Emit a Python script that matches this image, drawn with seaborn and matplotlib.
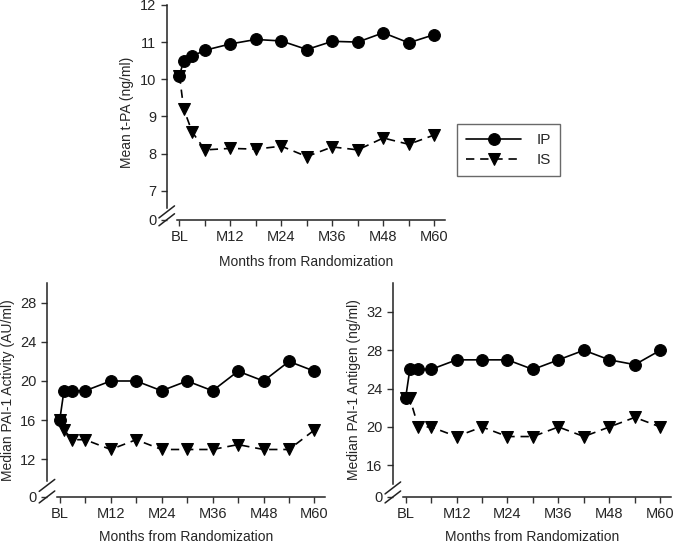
import pandas as pd
import seaborn as sns
import matplotlib.pyplot as plt

months = [0, 1, 3, 6, 12, 18, 24, 30, 36, 42, 48, 54, 60]

tpa_ip = [10.1, 10.5, 10.62, 10.78, 10.95, 11.07, 11.03, 10.8, 11.02, 11.0, 11.25, 10.98, 11.2]
tpa_is = [10.1, 9.2, 8.58, 8.1, 8.14, 8.12, 8.2, 7.92, 8.18, 8.1, 8.42, 8.25, 8.5]

pai_act_ip = [16, 19, 19, 19, 20, 20, 19, 20, 19, 21, 20, 22, 21]
pai_act_is = [16, 15, 14, 14, 13, 14, 13, 13, 13, 13.5, 13, 13, 15]

pai_ag_ip = [23, 26, 26, 26, 27, 27, 27, 26, 27, 28, 27, 26.5, 28]
pai_ag_is = [23, 23, 20, 20, 19, 20, 19, 19, 20, 19, 20, 21, 20]

xtick_pos = [0, 6, 12, 18, 24, 30, 36, 42, 48, 54, 60]
xtick_lab = ['BL', '', 'M12', '', 'M24', '', 'M36', '', 'M48', '', 'M60']


def make_df(ip, is_):
    return pd.DataFrame({
        'month': months + months,
        'value': ip + is_,
        'group': ['IP'] * len(ip) + ['IS'] * len(is_),
    })


def panel(ax, ip, is_, yticks, ylo, yhi, ylabel, xpad):
    df = make_df(ip, is_)
    sns.lineplot(data=df, x='month', y='value', hue='group', style='group',
                 palette={'IP': 'black', 'IS': 'black'},
                 markers={'IP': 'o', 'IS': 'v'},
                 dashes={'IP': '', 'IS': (5, 3.5)},
                 markersize=8.5, linewidth=1.2, markeredgecolor='black',
                 ax=ax, legend=True)
    ax.set_xlim(-3, 62.5)
    ax.set_ylim(ylo, yhi)
    ax.set_xticks(xtick_pos)
    ax.set_xticklabels(xtick_lab)
    ax.set_yticks([ylo] + yticks)
    ax.set_yticklabels(['0'] + [str(t) for t in yticks])
    ax.set_xlabel('Months from Randomization', fontsize=10, labelpad=xpad)
    ax.set_ylabel(ylabel, fontsize=10)
    ax.tick_params(direction='out', length=4, width=1, labelsize=10.5,
                   color='#333333')
    for s in ['top', 'right']:
        ax.spines[s].set_visible(False)
    # axis break
    brk = ylo + (yticks[0] - ylo) * 0.42
    ax.spines['left'].set_bounds(brk, yhi)
    ax.spines['bottom'].set_bounds(-0.6, 62.5)
    for s in ['left', 'bottom']:
        ax.spines[s].set_color('#222222')
        ax.spines[s].set_linewidth(1.1)
    brk_ax = (brk - ylo) / (yhi - ylo)
    for yc in [brk_ax - 0.02, 0.0]:
        ax.plot([-0.028, 0.028], [yc - 0.028, yc + 0.028], color='#222222',
                lw=1.1, transform=ax.transAxes, clip_on=False)
    handles, labels = ax.get_legend_handles_labels()
    ax.get_legend().remove()
    return handles, labels


sns.set_theme(style='ticks')
plt.rcParams['font.family'] = ['Liberation Sans', 'DejaVu Sans']

fig = plt.figure(figsize=(6.75, 5.44), dpi=100)
ax1 = fig.add_axes([0.247, 0.596, 0.412, 0.395])
ax2 = fig.add_axes([0.0696, 0.0865, 0.412, 0.393])
ax3 = fig.add_axes([0.582, 0.0865, 0.412, 0.393])

h, l = panel(ax1, tpa_ip, tpa_is, [7, 8, 9, 10, 11, 12], 6.22, 12.0,
             'Mean t-PA (ng/ml)', 8)
panel(ax2, pai_act_ip, pai_act_is, [12, 16, 20, 24, 28], 8.15, 30.0,
      'Median PAI-1 Activity (AU/ml)', 6)
panel(ax3, pai_ag_ip, pai_ag_is, [16, 20, 24, 28, 32], 12.7, 35.0,
      'Median PAI-1 Antigen (ng/ml)', 6)

leg = fig.legend(h, l, loc='upper left', bbox_to_anchor=(0.677, 0.772),
                 frameon=True, fancybox=False, handlelength=3.6,
                 fontsize=11, borderpad=0.6, handletextpad=1.0,
                 labelspacing=0.4, borderaxespad=0)
leg.get_frame().set_edgecolor('#444444')
leg.get_frame().set_linewidth(1.0)

fig.savefig('out.png', dpi=100)
